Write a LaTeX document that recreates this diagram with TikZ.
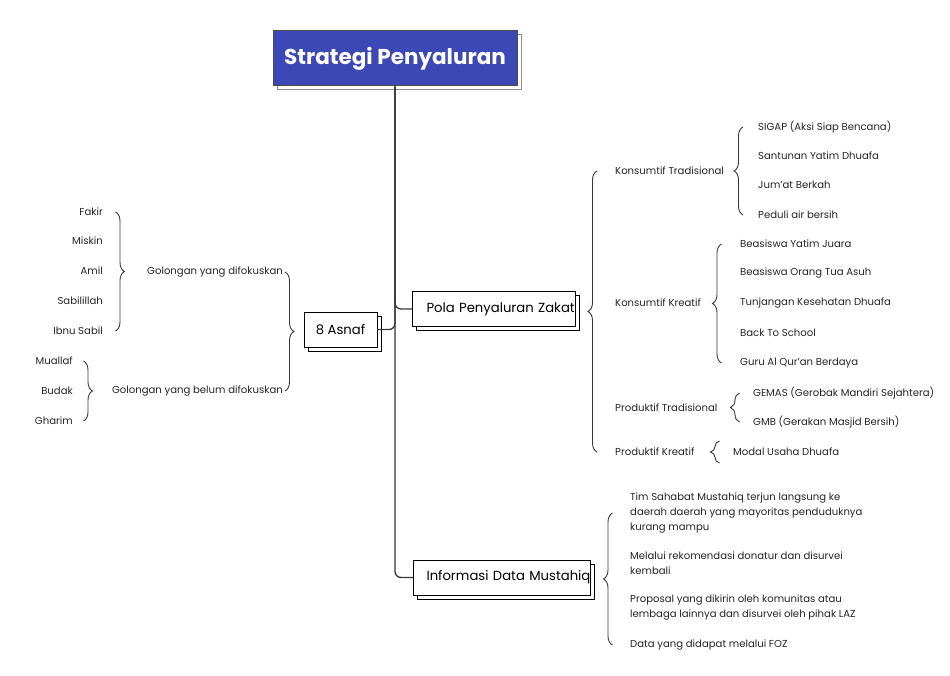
\documentclass[tikz,border=0pt]{standalone}
\usepackage{fontspec}
\setmainfont{Poppins}
\usetikzlibrary{positioning}
\usetikzlibrary{calc}
\usetikzlibrary{shadows}
\usetikzlibrary{decorations.pathreplacing}
\definecolor{titleblue}{RGB}{59,72,182}
\definecolor{linegray}{RGB}{55,55,55}

\begin{document}
\begin{tikzpicture}[x=1pt, y=-1pt,
    item/.style={inner sep=0pt, font=\fontsize{10.1}{15}\selectfont, text=black!85},
    topic/.style={draw=black, line width=1pt, fill=white, minimum height=35pt, inner xsep=0pt,
        font=\fontsize{13.2}{15}\selectfont,
        copy shadow={shadow xshift=4pt, shadow yshift=-4pt, draw=black, line width=0.8pt, fill=white}},
    bracelink/.style={draw=linegray, line width=0.9pt, decorate, decoration={brace, amplitude=9pt}},
    trunk/.style={draw=linegray, line width=1.3pt, rounded corners=6pt}]
    \useasboundingbox (0,0) rectangle (950,676);

    % Central topic
    \node[draw=black!70, line width=1pt, fill=titleblue, text=white, minimum width=244pt, minimum height=55pt,
        font=\bfseries\fontsize{21.5}{24}\selectfont,
        copy shadow={shadow xshift=4pt, shadow yshift=-4pt, fill=white, draw=black!45, line width=1pt}]
        (title) at (395,58.5) {Strategi Penyaluran};

    % Main branches
    \node[topic, anchor=west, text width=163pt, align=left] (pola) at (412,309) {\hspace*{14pt}Pola Penyaluran Zakat};
    \node[topic, minimum width=73pt] (asnaf) at (340.5,329.5) {8 Asnaf};
    \node[topic, anchor=west, text width=177pt, align=left] (info) at (413,577.5) {\hspace*{13pt}Informasi Data Mustahiq};

    \draw[trunk] (title.south) |- (pola.west);
    \draw[trunk] (title.south) |- (info.west);
    \draw[trunk] (asnaf.east) -| (title.south);

    % 8 Asnaf side
    \node[item, anchor=east] (golA) at (283,272) {Golongan yang difokuskan};
    \node[item, anchor=east] (golB) at (283,391) {Golongan yang belum difokuskan};
    \draw[bracelink] ([xshift=2pt]golA.east) -- ([xshift=2pt]golB.east);

    \foreach \name/\txt/\y in {fakir/Fakir/212, miskin/Miskin/241, amil/Amil/271, sabil/Sabilillah/301, ibnu/Ibnu Sabil/331} {
        \node[item, anchor=east] (\name) at (103,\y) {\txt};
    }
    \draw[bracelink] ([xshift=12.5pt]fakir.east) -- ([xshift=12.5pt]ibnu.east);

    \foreach \name/\txt/\y in {muallaf/Muallaf/361, budak/Budak/391, gharim/Gharim/421} {
        \node[item, anchor=east] (\name) at (73,\y) {\txt};
    }
    \draw[bracelink] ([xshift=10.5pt]muallaf.east) -- ([xshift=10.5pt]gharim.east);

    % Pola Penyaluran Zakat side
    \foreach \name/\txt/\y in {kontrad/Konsumtif Tradisional/171, konkre/Konsumtif Kreatif/303,
                               protrad/Produktif Tradisional/408, prokre/Produktif Kreatif/452} {
        \node[item, anchor=west] (\name) at (615,\y) {\txt};
    }
    \draw[bracelink] ([xshift=-18pt]prokre.west) -- ([xshift=-18pt]kontrad.west);

    \foreach \name/\txt/\y in {sigap/SIGAP (Aksi Siap Bencana)/127, santunan/Santunan Yatim Dhuafa/156,
                               jumat/Jum'at Berkah/185, peduli/Peduli air bersih/215} {
        \node[item, anchor=west] (\name) at (758,\y) {\txt};
    }
    \draw[bracelink] ([xshift=-15pt]peduli.west) -- ([xshift=-15pt]sigap.west);

    \foreach \name/\txt/\y in {beayj/Beasiswa Yatim Juara/244, beaot/Beasiswa Orang Tua Asuh/273,
                               tunjangan/Tunjangan Kesehatan Dhuafa/303, bts/Back To School/333,
                               guru/Guru Al Qur'an Berdaya/363} {
        \node[item, anchor=west] (\name) at (740,\y) {\txt};
    }
    \draw[bracelink] ([xshift=-18.5pt]guru.west) -- ([xshift=-18.5pt]beayj.west);

    \node[item, anchor=west] (gemas) at (753,393) {GEMAS (Gerobak Mandiri Sejahtera)};
    \node[item, anchor=west] (gmb) at (753,422) {GMB (Gerakan Masjid Bersih)};
    \draw[bracelink] ([xshift=-13.5pt]gmb.west) -- ([xshift=-13.5pt]gemas.west);

    \node[item, anchor=west] (modal) at (733,452) {Modal Usaha Dhuafa};
    \draw[bracelink] ([shift={(-13.5pt,-11pt)}]modal.west) -- ([shift={(-13.5pt,11pt)}]modal.west);

    % Informasi Data Mustahiq side
    \node[item, anchor=west, align=left] (tim) at (630,513) {Tim  Sahabat Mustahiq terjun langsung ke\\daerah daerah yang mayoritas penduduknya\\kurang mampu};
    \node[item, anchor=west, align=left] (rekom) at (630,563.5) {Melalui rekomendasi donatur dan disurvei\\kembali};
    \node[item, anchor=west, align=left] (proposal) at (630,608) {Proposal yang dikirin oleh komunitas atau\\lembaga lainnya dan disurvei oleh pihak LAZ};
    \node[item, anchor=west] (foz) at (630,645) {Data yang didapat melalui FOZ};
    \draw[bracelink] ([xshift=-17.5pt]foz.west) -- ([xshift=-17.5pt]tim.west);
\end{tikzpicture}
\end{document}
